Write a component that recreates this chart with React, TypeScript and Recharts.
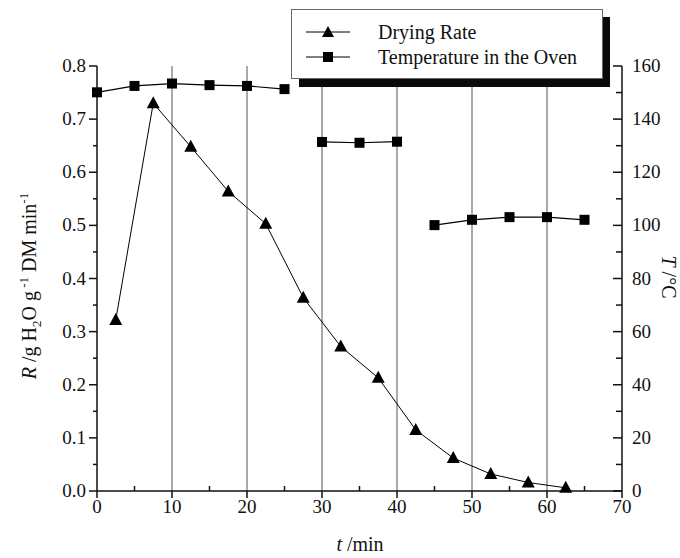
import React from "react";
import { LineChart, Line, XAxis, YAxis, ReferenceLine } from "recharts";

const FONT = "Liberation Serif, Times New Roman, serif";
const INK = "#111";

// drying rate R (g H2O / g DM / min), taken at the middle of each 5 min interval
const rateTimes = [2.5, 7.5, 12.5, 17.5, 22.5, 27.5, 32.5, 37.5, 42.5, 47.5, 52.5, 57.5, 62.5];
const rateValues = [0.322, 0.73, 0.648, 0.564, 0.503, 0.364, 0.272, 0.213, 0.115, 0.062, 0.032, 0.016, 0.006];

// oven temperature (°C), three heating stages
const ovenTimesA = [0, 5, 10, 15, 20, 25];
const ovenTempsA = [150.1, 152.5, 153.4, 152.8, 152.5, 151.3];
const ovenTimesB = [30, 35, 40];
const ovenTempsB = [131.4, 131.1, 131.5];
const ovenTimesC = [45, 50, 55, 60, 65];
const ovenTempsC = [100.1, 102.1, 103.1, 103.1, 102.1];

const timeTicks = [0, 5, 10, 15, 20, 25, 30, 35, 40, 45, 50, 55, 60, 65, 70];
const gridTimes = [10, 20, 30, 40, 50, 60];
const rateTicks = [0, 0.05, 0.1, 0.15, 0.2, 0.25, 0.3, 0.35, 0.4, 0.45, 0.5, 0.55, 0.6, 0.65, 0.7, 0.75, 0.8];
const tempTicks = [0, 10, 20, 30, 40, 50, 60, 70, 80, 90, 100, 110, 120, 130, 140, 150, 160];

const rateData = rateTimes.map((t, i) => ({ t, r: rateValues[i] }));
const stageA = ovenTimesA.map((t, i) => ({ t, T: ovenTempsA[i] }));
const stageB = ovenTimesB.map((t, i) => ({ t, T: ovenTempsB[i] }));
const stageC = ovenTimesC.map((t, i) => ({ t, T: ovenTempsC[i] }));

const TimeTick = (props: any) => {
  const { x, y, payload } = props;
  const v = payload.value as number;
  const major = v % 10 === 0;
  return (
    <g>
      {major ? (
        <line x1={x} x2={x} y1={y} y2={y + 7} stroke={INK} strokeWidth={1.5} />
      ) : (
        <line x1={x} x2={x} y1={y} y2={y - 5} stroke={INK} strokeWidth={1.5} />
      )}
      {major && (
        <text x={x} y={y + 22} textAnchor="middle" fontSize={19} fontFamily={FONT} fill={INK}>
          {v}
        </text>
      )}
    </g>
  );
};

const RateTick = (props: any) => {
  const { x, y, payload } = props;
  const v = payload.value as number;
  const major = Math.round(v * 100) % 10 === 0;
  return (
    <g>
      <line x1={x - (major ? 8 : 4)} x2={x} y1={y} y2={y} stroke={INK} strokeWidth={1.5} />
      {major && (
        <text x={x - 11} y={y + 6} textAnchor="end" fontSize={19} fontFamily={FONT} fill={INK}>
          {v.toFixed(1)}
        </text>
      )}
    </g>
  );
};

const TempTick = (props: any) => {
  const { x, y, payload } = props;
  const v = payload.value as number;
  const major = v % 20 === 0;
  return (
    <g>
      <line x1={x - (major ? 9 : 6)} x2={x} y1={y} y2={y} stroke={INK} strokeWidth={1.5} />
      {major && (
        <text x={x + 10} y={y + 6} textAnchor="start" fontSize={19} fontFamily={FONT} fill={INK}>
          {v}
        </text>
      )}
    </g>
  );
};

const triangleDot = (props: any) => {
  const { cx, cy, index } = props;
  if (cx == null || cy == null) return <g key={`tri-${index}`} />;
  return (
    <path
      key={`tri-${index}`}
      d={`M${cx},${cy - 7} L${cx + 6.5},${cy + 5} L${cx - 6.5},${cy + 5} Z`}
      fill="#000"
    />
  );
};

const squareDot = (props: any) => {
  const { cx, cy, index } = props;
  if (cx == null || cy == null) return <g key={`sq-${index}`} />;
  return <rect key={`sq-${index}`} x={cx - 5} y={cy - 5} width={10} height={10} fill="#000" />;
};

// titles and the framed legend, drawn over the chart
function Overlay() {
  return (
    <svg
      width={680}
      height={558}
      style={{ position: "absolute", left: 0, top: 0, pointerEvents: "none" }}
    >
      <text transform="translate(36,286) rotate(-90)" textAnchor="middle" fontSize={20} fontFamily={FONT} fill={INK}>
        <tspan fontStyle="italic">R</tspan>
        <tspan> /g H</tspan>
        <tspan fontSize={13} dy={5}>2</tspan>
        <tspan dy={-5}>O g</tspan>
        <tspan fontSize={13} dy={-8}> -1</tspan>
        <tspan dy={8}> DM min</tspan>
        <tspan fontSize={13} dy={-8}>-1</tspan>
      </text>
      <text transform="translate(662,277) rotate(90)" textAnchor="middle" fontSize={20} fontFamily={FONT} fill={INK}>
        <tspan fontStyle="italic">T</tspan>
        <tspan> /°C</tspan>
      </text>
      <text x={360} y={551} textAnchor="middle" fontSize={20} fontFamily={FONT} fill={INK}>
        <tspan fontStyle="italic">t</tspan>
        <tspan> /min</tspan>
      </text>

      <g transform="translate(291,9)">
        {/* solid drop shadow: right and bottom bars */}
        <rect x={311} y={8} width={8} height={70} fill="#0a0a0a" />
        <rect x={8} y={69} width={311} height={9} fill="#0a0a0a" />
        <rect x={0.5} y={0.5} width={311} height={69} fill="#fff" stroke="#666" strokeWidth={1} />
        <line x1={15} x2={59} y1={23} y2={23} stroke="#000" strokeWidth={1} />
        <path d="M37,17 L43,28 L31,28 Z" fill="#000" />
        <text x={87} y={30} fontSize={20} fontFamily={FONT} fill={INK}>
          Drying Rate
        </text>
        <line x1={15} x2={59} y1={48} y2={48} stroke="#000" strokeWidth={1.2} />
        <rect x={32} y={43} width={10} height={10} fill="#000" />
        <text x={87} y={55} fontSize={20} fontFamily={FONT} fill={INK}>
          Temperature in the Oven
        </text>
      </g>
    </svg>
  );
}

export default function App() {
  return (
    <div style={{ position: "absolute", left: 0, top: 0, width: 680, height: 558, background: "#fff" }}>
      <LineChart width={680} height={558} margin={{ top: 66, right: 0, bottom: 0, left: 0 }}>
        <XAxis
          type="number"
          dataKey="t"
          domain={[0, 70]}
          ticks={timeTicks}
          interval={0}
          height={67}
          tickSize={0}
          tickMargin={0}
          tickLine={false}
          tick={<TimeTick />}
          axisLine={{ stroke: INK, strokeWidth: 1.5 }}
        />
        <YAxis
          yAxisId="rate"
          orientation="left"
          width={97}
          domain={[0, 0.8]}
          ticks={rateTicks}
          interval={0}
          tickSize={0}
          tickMargin={0}
          tickLine={false}
          tick={<RateTick />}
          axisLine={{ stroke: INK, strokeWidth: 1.5 }}
        />
        <YAxis
          yAxisId="temp"
          orientation="right"
          width={58}
          domain={[0, 160]}
          ticks={tempTicks}
          interval={0}
          tickSize={0}
          tickMargin={0}
          tickLine={false}
          tick={<TempTick />}
          axisLine={{ stroke: INK, strokeWidth: 1.5 }}
        />
        {gridTimes.map((t) => (
          <ReferenceLine key={t} yAxisId="rate" x={t} stroke="#555" strokeWidth={1} />
        ))}
        <Line
          yAxisId="rate"
          data={rateData}
          dataKey="r"
          type="linear"
          stroke="#000"
          strokeWidth={1}
          dot={triangleDot}
          activeDot={false}
          isAnimationActive={false}
        />
        {[stageA, stageB, stageC].map((stage, i) => (
          <Line
            key={`oven-${i}`}
            yAxisId="temp"
            data={stage}
            dataKey="T"
            type="linear"
            stroke="#000"
            strokeWidth={1.2}
            dot={squareDot}
            activeDot={false}
            isAnimationActive={false}
          />
        ))}
      </LineChart>
      <Overlay />
    </div>
  );
}
